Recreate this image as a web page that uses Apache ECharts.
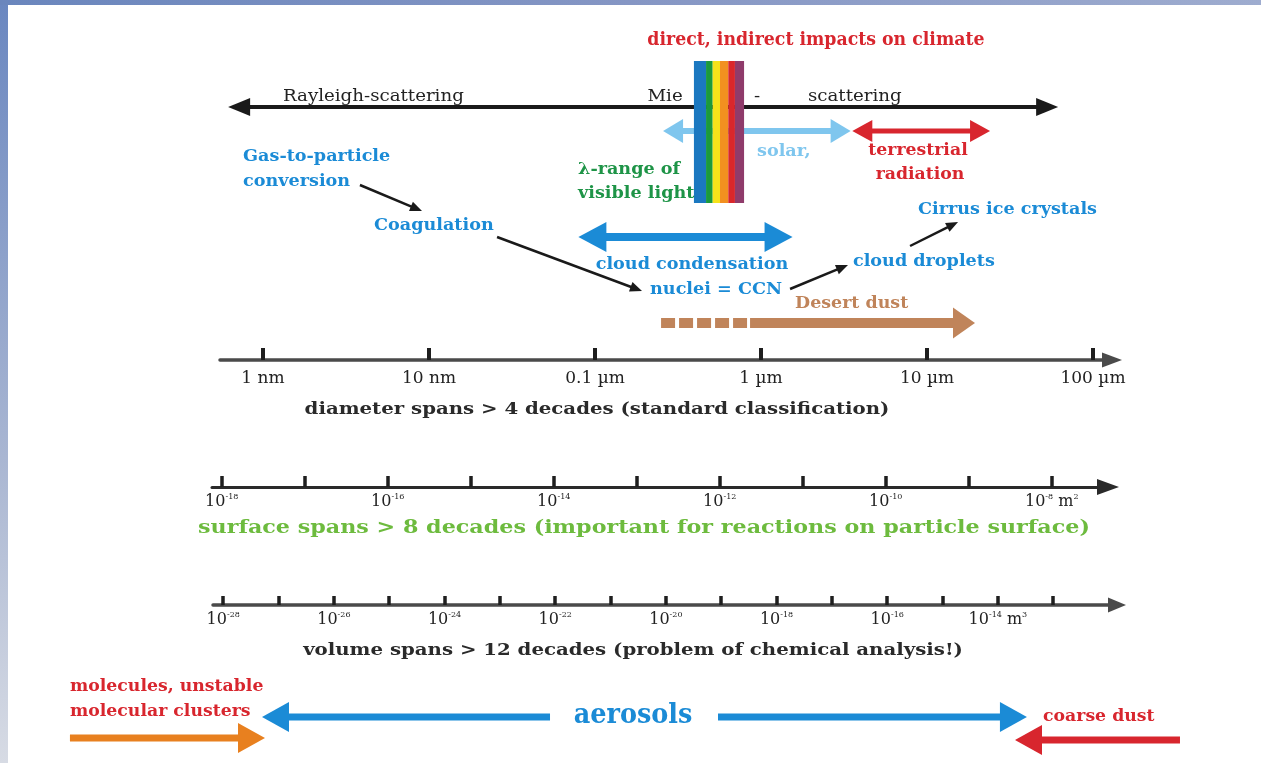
<!DOCTYPE html>
<html>
<head>
<meta charset="utf-8">
<title>Aerosol size ranges</title>
<script src="https://cdn.jsdelivr.net/npm/echarts@6/dist/echarts.min.js"></script>
<style>
html, body { margin: 0; padding: 0; background: #fff; }
#chart { width: 1261px; height: 763px; }
</style>
</head>
<body>
<div id="chart"></div>
<script>
// x values are decades of particle diameter: log10(d / 1 nm)
// y values are diagram rows (0 = top of the picture)
const diameterTicks = [0, 1, 2, 3, 4, 5]
const diameterTickLabels = ['1 nm', '10 nm', '0.1 µm', '1 µm', '10 µm', '100 µm']
const surfaceTicks = [-18, -17, -16, -15, -14, -13, -12, -11, -10, -9, -8]
const surfaceLabelled = [-18, -16, -14, -12, -10, -8]
const volumeTicks = [-28, -27, -26, -25, -24, -23, -22, -21, -20, -19, -18, -17, -16, -15, -14, -13]
const volumeLabelled = [-28, -26, -24, -22, -20, -18, -16, -14]

// visible light band, stripe edges in decades (about 390 .. 790 nm)
const visibleStripes = [2.596, 2.669, 2.709, 2.753, 2.803, 2.843, 2.898]

// ranges [from, to] in decades
const rayleighMie = [-0.21, 4.79]
const solarRange = [2.41, 3.54]
const terrestrialRange = [3.55, 4.38]
const ccnRange = [1.90, 3.19]
const desertDustUncertain = [2.398, 2.916]
const desertDustRange = [2.934, 4.289]
const gasToCoagulation = [0.584, 0.958]
const coagulationToCcn = [1.41, 2.283]
const ccnToDroplets = [3.175, 3.524]
const dropletsToCirrus = [3.898, 4.187]
const moleculesRange = [-1.163, 0.012]
const aerosolsLeft = [1.729, -0.006]
const aerosolsRight = [2.741, 4.602]
const coarseDustRange = [5.524, 4.53]

// layout of the diameter scale on the page
const PX_ONE_NM = 263
const PX_PER_DECADE = 166
function decadeAt(px) { return (px - PX_ONE_NM) / PX_PER_DECADE }
function toSurface(u) { return 2 * (u - 9) + Math.log10(Math.PI) }
function toVolume(u) { return 3 * (u - 9) + Math.log10(Math.PI / 6) }

const arrowStyles = {
  black: { color: '#1a1a1a', width: 4, headLen: 22, headW: 18 },
  solar: { color: '#7fc6ee', width: 6, headLen: 20, headW: 24 },
  terrestrial: { color: '#d8262e', width: 5, headLen: 20, headW: 22 },
  ccn: { color: '#1b8bd6', width: 8, headLen: 28, headW: 30 },
  dust: { color: '#c0845a', width: 10, headLen: 22, headW: 31 },
  dustDash: { color: '#c0845a', width: 10, headLen: 0, headW: 0, dash: [14, 4] },
  link: { color: '#1a1a1a', width: 2.5, headLen: 12, headW: 10 },
  molecules: { color: '#e8801f', width: 7, headLen: 27, headW: 30 },
  aerosols: { color: '#1b8bd6', width: 7, headLen: 27, headW: 30 },
  coarse: { color: '#d8262e', width: 7, headLen: 27, headW: 30 }
}

const arrowList = [
  { x: rayleighMie, y: [107, 107], heads: 'both', style: 'black' },
  { x: solarRange, y: [131, 131], heads: 'both', style: 'solar' },
  { x: terrestrialRange, y: [131, 131], heads: 'both', style: 'terrestrial' },
  { x: ccnRange, y: [237, 237], heads: 'both', style: 'ccn' },
  { x: desertDustUncertain, y: [323, 323], heads: 'none', style: 'dustDash' },
  { x: desertDustRange, y: [323, 323], heads: 'end', style: 'dust' },
  { x: gasToCoagulation, y: [185, 211], heads: 'end', style: 'link' },
  { x: coagulationToCcn, y: [237, 291], heads: 'end', style: 'link' },
  { x: ccnToDroplets, y: [289, 265], heads: 'end', style: 'link' },
  { x: dropletsToCirrus, y: [246, 222], heads: 'end', style: 'link' },
  { x: moleculesRange, y: [738, 738], heads: 'end', style: 'molecules' },
  { x: aerosolsLeft, y: [717, 717], heads: 'end', style: 'aerosols' },
  { x: aerosolsRight, y: [717, 717], heads: 'end', style: 'aerosols' },
  { x: coarseDustRange, y: [740, 740], heads: 'end', style: 'coarse' }
]

const SERIF = '"DejaVu Serif Condensed", "DejaVu Serif", "Liberation Serif", serif'
const SERIF_WIDE = '"DejaVu Serif", "Liberation Serif", serif'
// the original lettering is set wide, so labels get a horizontal stretch
const textStyles = {
  red: { color: '#d8262e', size: 18, weight: 'bold', stretch: 1.07 },
  redSmall: { color: '#d8262e', size: 17, weight: 'bold', stretch: 1.13 },
  blue: { color: '#1b8bd6', size: 17, weight: 'bold', stretch: 1.15 },
  green: { color: '#1e9447', size: 17, weight: 'bold', stretch: 1.15 },
  solar: { color: '#7fc6ee', size: 17, weight: 'bold', stretch: 1.15 },
  brown: { color: '#c0845a', size: 17, weight: 'bold', stretch: 1.14 },
  plain: { color: '#222', size: 17, weight: 'normal', stretch: 1.19 },
  title: { color: '#2a2a2a', size: 17, weight: 'bold', stretch: 1.29 },
  surface: { color: '#6dbb3e', size: 19, weight: 'bold', stretch: 1.3 },
  aerosols: { color: '#1b8bd6', size: 27, weight: 'bold', stretch: 1.05 }
}

const labelList = [
  ['direct, indirect impacts on climate', 3.331, 40, 'center', 'red'],
  ['Rayleigh-scattering', 0.12, 97, 'left', 'plain'],
  ['Mie', 2.422, 97, 'center', 'plain'],
  ['-', 2.976, 97, 'center', 'plain'],
  ['scattering', 3.283, 97, 'left', 'plain'],
  ['solar,', 2.976, 152, 'left', 'solar'],
  ['terrestrial', 3.946, 151, 'center', 'redSmall'],
  ['radiation', 3.958, 175, 'center', 'redSmall'],
  ['λ-range of', 1.898, 170, 'left', 'green'],
  ['visible light', 1.898, 194, 'left', 'green'],
  ['Gas-to-particle', -0.12, 157, 'left', 'blue'],
  ['conversion', -0.12, 182, 'left', 'blue'],
  ['Coagulation', 0.669, 226, 'left', 'blue'],
  ['cloud condensation', 2.584, 265, 'center', 'blue'],
  ['nuclei = CCN', 2.729, 290, 'center', 'blue'],
  ['cloud droplets', 3.554, 262, 'left', 'blue'],
  ['Cirrus ice crystals', 3.946, 210, 'left', 'blue'],
  ['Desert dust', 3.205, 304, 'left', 'brown'],
  ['diameter spans > 4 decades (standard classification)', 2.012, 410, 'center', 'title'],
  ['surface spans > 8 decades (important for reactions on particle surface)', 2.295, 528, 'center', 'surface'],
  ['volume spans > 12 decades (problem of chemical analysis!)', 2.229, 651, 'center', 'title'],
  ['molecules, unstable', -1.163, 687, 'left', 'redSmall'],
  ['molecular clusters', -1.163, 712, 'left', 'redSmall'],
  ['aerosols', 2.229, 716, 'center', 'aerosols'],
  ['coarse dust', 4.699, 717, 'left', 'redSmall']
]

const visibleColors = ['#1b78c0', '#1b9a3c', '#f6e21a', '#f29020', '#d9272b', '#8f3b6b']

function renderArrow(params, api) {
  const a = arrowList[params.dataIndex]
  const st = arrowStyles[a.style]
  const p0 = api.coord([api.value(0), api.value(1)])
  const p1 = api.coord([api.value(2), api.value(3)])
  const dx = p1[0] - p0[0]
  const dy = p1[1] - p0[1]
  const len = Math.hypot(dx, dy)
  const ux = dx / len
  const uy = dy / len
  const nx = -uy
  const ny = ux
  const children = []
  let s0 = p0
  let s1 = p1
  const head = (tip, dirx, diry) => {
    const bx = tip[0] - dirx * st.headLen
    const by = tip[1] - diry * st.headLen
    return {
      type: 'polygon',
      shape: { points: [tip, [bx + nx * st.headW / 2, by + ny * st.headW / 2], [bx - nx * st.headW / 2, by - ny * st.headW / 2]] },
      style: { fill: st.color }
    }
  }
  if (a.heads === 'end' || a.heads === 'both') {
    children.push(head(p1, ux, uy))
    s1 = [p1[0] - ux * st.headLen * 0.9, p1[1] - uy * st.headLen * 0.9]
  }
  if (a.heads === 'both') {
    children.push(head(p0, -ux, -uy))
    s0 = [p0[0] + ux * st.headLen * 0.9, p0[1] + uy * st.headLen * 0.9]
  }
  children.unshift({
    type: 'line',
    shape: { x1: s0[0], y1: s0[1], x2: s1[0], y2: s1[1] },
    style: { stroke: st.color, lineWidth: st.width, lineDash: st.dash || null, lineCap: 'butt' }
  })
  return { type: 'group', children: children }
}

function renderStripe(params, api) {
  const a = api.coord([api.value(0), 61])
  const b = api.coord([api.value(1), 203])
  return {
    type: 'rect',
    shape: { x: a[0], y: a[1], width: b[0] - a[0], height: b[1] - a[1] },
    style: { fill: visibleColors[params.dataIndex] }
  }
}

function renderLabel(params, api) {
  const t = labelList[params.dataIndex]
  const st = textStyles[t[4]]
  const p = api.coord([api.value(0), api.value(1)])
  return {
    type: 'text',
    x: p[0],
    y: p[1],
    scaleX: st.stretch,
    style: {
      text: t[0],
      fill: st.color,
      fontSize: st.size,
      fontWeight: st.weight,
      fontFamily: SERIF,
      align: t[3],
      verticalAlign: 'middle'
    }
  }
}

const supRich = {
  s: { fontSize: 8, fontFamily: SERIF_WIDE, color: '#222', verticalAlign: 'top', lineHeight: 17 },
  b: { fontSize: 16, fontFamily: SERIF_WIDE, color: '#222', lineHeight: 17 }
}

function logLabel(unit, last) {
  return v => '{b|10}{s|' + v + '}' + (v === last ? '{b| m}{s|' + unit + '}' : '')
}

const chart = echarts.init(document.getElementById('chart'))
const mainRange = [decadeAt(0), decadeAt(1261)]
const dRange = [decadeAt(220), decadeAt(1112)]
const sRange = [toSurface(decadeAt(212)), toSurface(decadeAt(1108))]
const vRange = [toVolume(decadeAt(213)), toVolume(decadeAt(1117))]

const tickStyle = (len, width) => ({ show: true, inside: true, length: len, lineStyle: { color: '#1e1e1e', width: width } })

chart.setOption({
  animation: false,
  backgroundColor: '#fff',
  graphic: [
    {
      type: 'rect', left: 0, top: 0, z: 100,
      shape: { width: 8, height: 763 },
      style: { fill: new echarts.graphic.LinearGradient(0, 0, 0, 1, [{ offset: 0, color: '#6a87c0' }, { offset: 0.6, color: '#a9b6d2' }, { offset: 1, color: '#d7dbe4' }]) }
    },
    {
      type: 'rect', left: 0, top: 0, z: 100,
      shape: { width: 1261, height: 5 },
      style: { fill: new echarts.graphic.LinearGradient(0, 0, 1, 0, [{ offset: 0, color: '#6a86bd' }, { offset: 0.5, color: '#8596c4' }, { offset: 1, color: '#9eaccf' }]) }
    }
  ],
  grid: [
    { left: 0, top: 0, width: 1261, height: 763 },
    { left: 220, top: 340, width: 892, height: 20 },
    { left: 212, top: 467, width: 896, height: 20 },
    { left: 213, top: 585, width: 904, height: 20 }
  ],
  xAxis: [
    { gridIndex: 0, type: 'value', min: mainRange[0], max: mainRange[1], show: false },
    {
      gridIndex: 1, type: 'value', min: dRange[0], max: dRange[1], position: 'bottom',
      axisLine: { show: true, onZero: false, symbol: ['none', 'triangle'], symbolSize: [15, 20], lineStyle: { color: '#4a4a4a', width: 3.5 } },
      axisTick: Object.assign(tickStyle(12, 4), { customValues: diameterTicks }),
      axisLabel: {
        customValues: diameterTicks, margin: 10, color: '#222', fontSize: 17, fontFamily: SERIF_WIDE,
        formatter: v => diameterTickLabels[diameterTicks.indexOf(v)]
      },
      splitLine: { show: false }
    },
    {
      gridIndex: 2, type: 'value', min: sRange[0], max: sRange[1], position: 'bottom',
      axisLine: { show: true, onZero: false, symbol: ['none', 'triangle'], symbolSize: [16, 22], lineStyle: { color: '#2a2a2a', width: 3 } },
      axisTick: Object.assign(tickStyle(11, 3.5), { customValues: surfaceTicks }),
      axisLabel: { customValues: surfaceLabelled, margin: 6, rich: supRich, formatter: logLabel('2', -8) },
      splitLine: { show: false }
    },
    {
      gridIndex: 3, type: 'value', min: vRange[0], max: vRange[1], position: 'bottom',
      axisLine: { show: true, onZero: false, symbol: ['none', 'triangle'], symbolSize: [15, 18], lineStyle: { color: '#4a4a4a', width: 3.5 } },
      axisTick: Object.assign(tickStyle(9, 3.5), { customValues: volumeTicks }),
      axisLabel: { customValues: volumeLabelled, margin: 6, rich: supRich, formatter: logLabel('3', -14) },
      splitLine: { show: false }
    }
  ],
  yAxis: [
    { gridIndex: 0, type: 'value', min: 0, max: 763, inverse: true, show: false },
    { gridIndex: 1, type: 'value', show: false },
    { gridIndex: 2, type: 'value', show: false },
    { gridIndex: 3, type: 'value', show: false }
  ],
  series: [
    {
      type: 'custom', name: 'arrows', xAxisIndex: 0, yAxisIndex: 0, z: 2,
      renderItem: renderArrow,
      data: arrowList.map(a => [a.x[0], a.y[0], a.x[1], a.y[1]])
    },
    {
      type: 'custom', name: 'visible light', xAxisIndex: 0, yAxisIndex: 0, z: 3,
      renderItem: renderStripe,
      data: visibleStripes.slice(0, -1).map((u, i) => [u, visibleStripes[i + 1]])
    },
    {
      type: 'custom', name: 'labels', xAxisIndex: 0, yAxisIndex: 0, z: 4,
      renderItem: renderLabel,
      data: labelList.map(t => [t[1], t[2]])
    }
  ]
})
</script>
</body>
</html>
